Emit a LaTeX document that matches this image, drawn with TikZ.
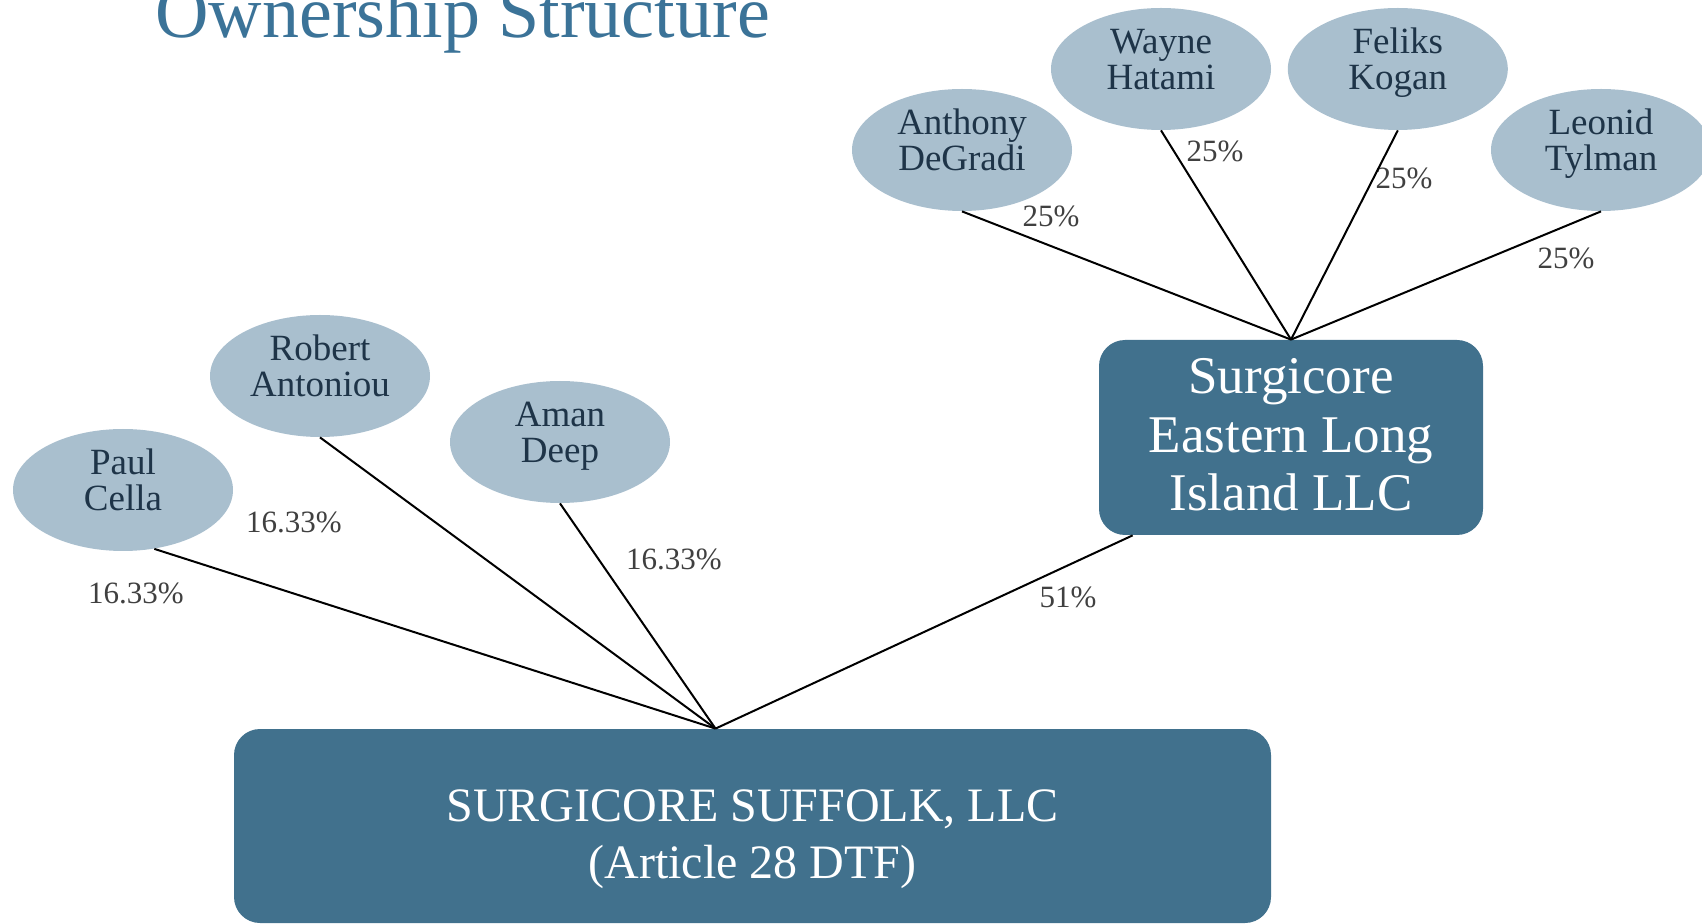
\documentclass[tikz,border=0pt]{standalone}
\usepackage{fontspec}
\setmainfont{Liberation Serif}
\usepackage{xcolor}
\usepackage{tikz}
\usetikzlibrary{shapes,arrows,positioning}

\definecolor{boxteal}{HTML}{41718D}
\definecolor{ovalgray}{HTML}{A9BFCE}
\definecolor{titleblue}{HTML}{3B7398}
\definecolor{nametext}{HTML}{1E3448}
\definecolor{pcttext}{HTML}{404040}

\begin{document}
\begin{tikzpicture}[
        x=0.5pt, y=-0.5pt,
        owner/.style={ellipse, fill=ovalgray, minimum width=110pt, minimum height=61pt, inner sep=0pt, align=center, text depth=10pt, text=nametext, font={\fontsize{18.5}{18}\selectfont}},
        entity/.style={rectangle, rounded corners=13pt, fill=boxteal, text=white, align=center, inner sep=0pt},
        pct/.style={text=pcttext, inner sep=0pt, font={\fontsize{15.5}{18}\selectfont}},
        link/.style={line width=1pt, black}
    ]
        \useasboundingbox (0,0) rectangle (1702,924);

        % Title
        \node[anchor=base west, inner sep=0pt, text=titleblue, font={\fontsize{37}{40}\selectfont}] (title) at (155,38) {Ownership Structure};

        % Companies
        \node[entity, minimum width=518.5pt, minimum height=97pt, text height=57.5pt, font={\fontsize{24}{28.5}\selectfont}] (suffolk) at (752.5,826) {SURGICORE SUFFOLK, LLC\\(Article 28 DTF)};
        \node[entity, minimum width=192pt, minimum height=97.5pt, text depth=3pt, font={\fontsize{26.5}{29.25}\selectfont}] (eastern) at (1291,437.5) {Surgicore\\Eastern Long\\Island LLC};

        \coordinate (suffolkhub) at ([xshift=-18.5pt]suffolk.north);
        \coordinate (easternfoot) at ([xshift=17pt]eastern.south west);

        % Owners of Suffolk
        \node[owner] (paul) at (123,490) {Paul\\Cella};
        \node[owner] (robert) at (320,376) {Robert\\Antoniou};
        \node[owner] (aman) at (560,442) {Aman\\Deep};

        % Owners of Eastern Long Island
        \node[owner] (anthony) at (962,150) {Anthony\\DeGradi};
        \node[owner] (wayne) at (1161,69) {Wayne\\Hatami};
        \node[owner, right=8pt of wayne] (feliks) {Feliks\\Kogan};
        \node[owner] (leonid) at (1601,150) {Leonid\\Tylman};

        % Shares
        \node[pct] (paulpct) at (136,593) {16.33\%};
        \node[pct] (robertpct) at (294,522) {16.33\%};
        \node[pct] (amanpct) at (674,559) {16.33\%};
        \node[pct] (easternpct) at (1068,597) {51\%};
        \node[pct] (anthonypct) at (1051,216) {25\%};
        \node[pct] (waynepct) at (1215,151) {25\%};
        \node[pct] (felikspct) at (1404,178) {25\%};
        \node[pct] (leonidpct) at (1566,258) {25\%};

        % Lines
        \draw[link] (paul.-62) -- (suffolkhub);
        \draw[link] (robert.south) -- (suffolkhub);
        \draw[link] (aman.south) -- (suffolkhub);
        \draw[link] (easternfoot) -- (suffolkhub);

        \draw[link] (anthony.south) -- (eastern.north);
        \draw[link] (wayne.south) -- (eastern.north);
        \draw[link] (feliks.south) -- (eastern.north);
        \draw[link] (leonid.south) -- (eastern.north);

    \end{tikzpicture}
\end{document}
